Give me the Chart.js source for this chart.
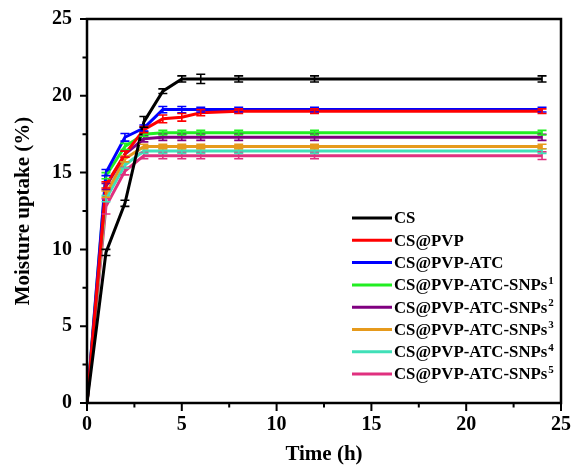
<!DOCTYPE html>
<html>
<head>
<meta charset="utf-8">
<script src="https://cdn.jsdelivr.net/npm/chart.js@4.4.0/dist/chart.umd.min.js"></script>
<style>
html,body{margin:0;padding:0;background:#fff;}
#wrap{width:573px;height:465px;position:relative;}
</style>
</head>
<body>
<div id="wrap"><canvas id="c" width="573" height="465"></canvas></div>
<script>
// ---- data ----
const times = [0, 1, 2, 3, 4, 5, 6, 8, 12, 24];
const seriesNames = ['CS', 'CS@PVP', 'CS@PVP-ATC', 'CS@PVP-ATC-SNPs', 'CS@PVP-ATC-SNPs', 'CS@PVP-ATC-SNPs', 'CS@PVP-ATC-SNPs', 'CS@PVP-ATC-SNPs'];
const seriesSup = ['', '', '', '1', '2', '3', '4', '5'];
const seriesColors = ['#000000', '#ff0000', '#0000ff', '#22ee22', '#800080', '#e69a1c', '#40e0b8', '#e0307f'];

const cs       = [0, 9.8, 13.0, 18.3, 20.3, 21.1, 21.1, 21.1, 21.1, 21.1];
const csPvp    = [0, 14.2, 16.2, 17.8, 18.5, 18.6, 18.9, 19.0, 19.0, 19.0];
const csPvpAtc = [0, 15.0, 17.3, 17.9, 19.1, 19.1, 19.1, 19.1, 19.1, 19.1];
const snps1    = [0, 14.8, 16.7, 17.5, 17.6, 17.6, 17.6, 17.6, 17.6, 17.6];
const snps2    = [0, 14.1, 16.2, 17.2, 17.3, 17.3, 17.3, 17.3, 17.3, 17.3];
const snps3    = [0, 13.6, 15.9, 16.7, 16.7, 16.7, 16.7, 16.7, 16.7, 16.7];
const snps4    = [0, 13.3, 15.5, 16.4, 16.4, 16.4, 16.4, 16.4, 16.4, 16.4];
const snps5    = [0, 12.8, 15.1, 16.1, 16.1, 16.1, 16.1, 16.1, 16.1, 16.1];

const csErr       = [0, 0.2, 0.2, 0.35, 0.15, 0.2, 0.3, 0.2, 0.2, 0.2];
const csPvpErr    = [0, 0.2, 0.2, 0.2, 0.25, 0.25, 0.2, 0.15, 0.15, 0.15];
const csPvpAtcErr = [0, 0.2, 0.25, 0.2, 0.2, 0.2, 0.15, 0.15, 0.15, 0.15];
const snps1Err    = [0, 0.2, 0.2, 0.15, 0.15, 0.15, 0.15, 0.15, 0.15, 0.15];
const snps2Err    = [0, 0.2, 0.2, 0.2, 0.2, 0.2, 0.2, 0.2, 0.2, 0.2];
const snps3Err    = [0, 0.2, 0.2, 0.15, 0.15, 0.15, 0.15, 0.15, 0.15, 0.15];
const snps4Err    = [0, 0.2, 0.2, 0.15, 0.15, 0.15, 0.15, 0.15, 0.15, 0.15];
const snps5Err    = [0, 0.5, 0.25, 0.2, 0.2, 0.2, 0.2, 0.2, 0.2, 0.25];

const xTicksMajor = [0, 5, 10, 15, 20, 25];
const yTicksMajor = [0, 5, 10, 15, 20, 25];

const allValues = [cs, csPvp, csPvpAtc, snps1, snps2, snps3, snps4, snps5];
const allErrors = [csErr, csPvpErr, csPvpAtcErr, snps1Err, snps2Err, snps3Err, snps4Err, snps5Err];

const FONT = "'Liberation Serif', 'Times New Roman', serif";

const datasets = allValues.map((vals, i) => ({
  label: seriesNames[i] + seriesSup[i],
  data: times.map((t, k) => ({x: t, y: vals[k]})),
  errors: allErrors[i],
  borderColor: seriesColors[i],
  backgroundColor: seriesColors[i],
  borderWidth: 3,
  pointRadius: 0,
  tension: 0,
  order: i
}));

const errorBars = {
  id: 'errorBars',
  afterDatasetsDraw(chart) {
    const ctx = chart.ctx;
    const xs = chart.scales.x, ys = chart.scales.y;
    ctx.save();
    for (let i = chart.data.datasets.length - 1; i >= 0; i--) {
      const ds = chart.data.datasets[i];
      ctx.strokeStyle = ds.borderColor;
      ctx.lineWidth = 1.6;
      ds.data.forEach((p, k) => {
        const e = ds.errors[k];
        if (!e) return;
        const px = xs.getPixelForValue(p.x);
        const y1 = ys.getPixelForValue(p.y + e);
        const y2 = ys.getPixelForValue(p.y - e);
        ctx.beginPath();
        ctx.moveTo(px, y1); ctx.lineTo(px, y2);
        ctx.moveTo(px - 4.5, y1); ctx.lineTo(px + 4.5, y1);
        ctx.moveTo(px - 4.5, y2); ctx.lineTo(px + 4.5, y2);
        ctx.stroke();
      });
    }
    ctx.restore();
  }
};

const frameAndTicks = {
  id: 'frameAndTicks',
  afterDraw(chart) {
    const ctx = chart.ctx;
    const {left, right, top, bottom} = chart.chartArea;
    const xs = chart.scales.x, ys = chart.scales.y;
    ctx.save();
    ctx.strokeStyle = '#000';
    ctx.lineWidth = 2.5;
    ctx.strokeRect(left, top, right - left, bottom - top);
    ctx.lineWidth = 2;
    ctx.beginPath();
    xTicksMajor.forEach(v => { const px = xs.getPixelForValue(v); ctx.moveTo(px, bottom); ctx.lineTo(px, bottom + 8); });
    yTicksMajor.forEach(v => { const py = ys.getPixelForValue(v); ctx.moveTo(left, py); ctx.lineTo(left - 7, py); });
    xTicksMajor.slice(0, -1).forEach(v => { const px = xs.getPixelForValue(v + 2.5); ctx.moveTo(px, bottom); ctx.lineTo(px, bottom + 4.5); });
    yTicksMajor.slice(0, -1).forEach(v => { const py = ys.getPixelForValue(v + 2.5); ctx.moveTo(left, py); ctx.lineTo(left - 4.5, py); });
    ctx.stroke();

    // legend
    const lx = 352, ly0 = 218, dy = 22.3;
    ctx.textBaseline = 'middle';
    ctx.textAlign = 'left';
    chart.data.datasets.forEach((ds, i) => {
      const y = ly0 + i * dy;
      ctx.strokeStyle = seriesColors[i];
      ctx.lineWidth = 3;
      ctx.beginPath(); ctx.moveTo(lx, y); ctx.lineTo(lx + 40, y); ctx.stroke();
      ctx.fillStyle = '#000';
      ctx.font = 'bold 16.8px ' + FONT;
      ctx.fillText(seriesNames[i], lx + 42, y + 1);
      if (seriesSup[i]) {
        const w = ctx.measureText(seriesNames[i]).width;
        ctx.font = 'bold 11px ' + FONT;
        ctx.fillText(seriesSup[i], lx + 42 + w + 1, y - 4);
      }
    });
    ctx.restore();
  }
};

new Chart(document.getElementById('c'), {
  type: 'line',
  data: { datasets },
  options: {
    responsive: false,
    animation: false,
    devicePixelRatio: 1,
    layout: { padding: { top: 19, right: 12, left: 0, bottom: 0 } },
    plugins: { legend: { display: false }, tooltip: { enabled: false } },
    scales: {
      x: {
        type: 'linear', min: 0, max: 25,
        ticks: { stepSize: 5, color: '#000', font: { family: FONT, weight: 'bold', size: 20 }, padding: 2, maxRotation: 0 },
        grid: { display: true, drawOnChartArea: false, drawTicks: true, tickLength: 8, color: 'rgba(0,0,0,0)' },
        border: { display: false },
        title: { display: true, text: 'Time (h)', color: '#000', font: { family: FONT, weight: 'bold', size: 21, lineHeight: 1.0 }, padding: { top: 0, bottom: 0 } },
        afterFit(s) { s.height = 62; }
      },
      y: {
        type: 'linear', min: 0, max: 25,
        ticks: { stepSize: 5, color: '#000', font: { family: FONT, weight: 'bold', size: 20 }, padding: 7 },
        grid: { display: true, drawOnChartArea: false, drawTicks: true, tickLength: 8, color: 'rgba(0,0,0,0)' },
        border: { display: false },
        title: { display: true, text: 'Moisture uptake (%)', color: '#000', font: { family: FONT, weight: 'bold', size: 21 }, padding: { top: 11, bottom: 0 } },
        afterFit(s) { s.width = 87; }
      }
    }
  },
  plugins: [errorBars, frameAndTicks]
});
</script>
</body>
</html>
